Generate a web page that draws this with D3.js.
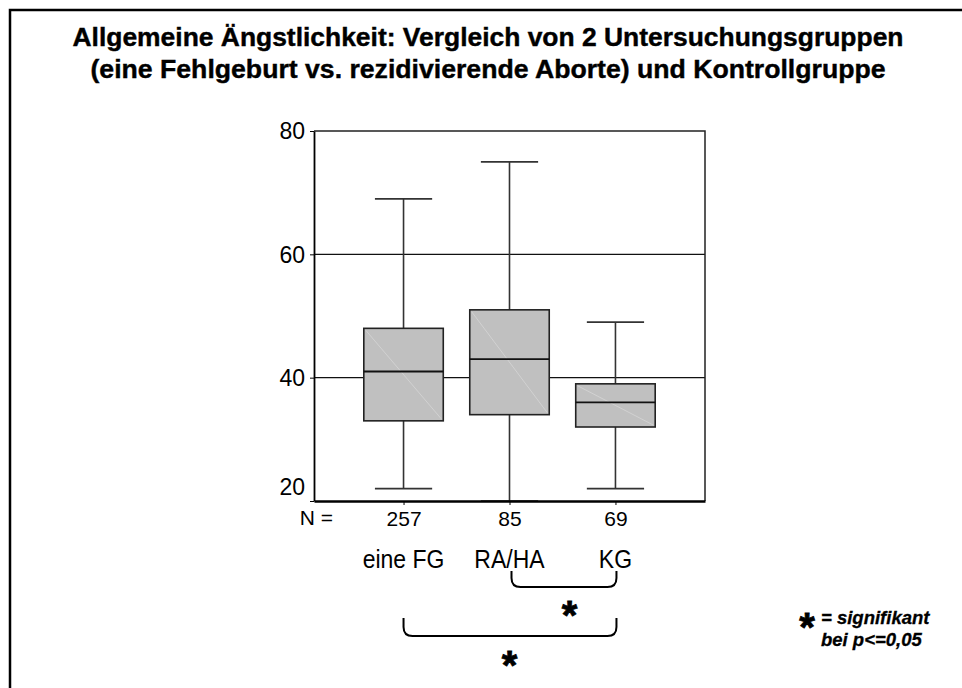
<!DOCTYPE html>
<meta charset="utf-8">
<head>
    <style>
        body { margin: 0; background: #fff; }
        text { font-family: Arial, "Liberation Sans", sans-serif; }
    </style>
</head>
<body>
    <script src="https://d3js.org/d3.v7.js"></script>

    <svg width="962" height="688"></svg>

    <script>
        // Data
        var categories = ["eine FG", "RA/HA", "KG"];
        var nValues = [257, 85, 69];
        var whiskerLow = [22, 20, 22];
        var q1 = [33, 34, 32];
        var median = [41, 43, 36];
        var q3 = [48, 51, 39];
        var whiskerHigh = [69, 75, 49];
        var yTicks = [20, 40, 60, 80];
        var gridValues = [40, 60];
        var comparisons = [["RA/HA", "KG"], ["eine FG", "KG"]];

        var titleLines = [
            "Allgemeine Ängstlichkeit: Vergleich von 2 Untersuchungsgruppen",
            "(eine Fehlgeburt vs. rezidivierende Aborte) und Kontrollgruppe"
        ];

        var svg = d3.select("svg");

        // outer frame (right and bottom edges run off the page)
        svg.append("rect")
            .attr("x", 10).attr("y", 10)
            .attr("width", 980).attr("height", 700)
            .attr("fill", "none")
            .attr("stroke", "#000")
            .attr("stroke-width", 2.5);

        // title
        svg.selectAll(".title")
            .data(titleLines)
            .enter().append("text")
            .attr("class", "title")
            .attr("x", 488)
            .attr("y", function (d, i) { return 46 + i * 31.5; })
            .attr("text-anchor", "middle")
            .attr("font-size", "25px")
            .attr("font-weight", "bold")
            .attr("stroke", "#000")
            .attr("stroke-width", 0.4)
            .attr("textLength", function (d, i) { return i == 0 ? 831 : 795; })
            .attr("lengthAdjust", "spacingAndGlyphs")
            .text(function (d) { return d; });

        var plotLeft = 314, plotRight = 705, plotTop = 131, plotBottom = 501;

        var x = d3.scalePoint().domain(categories).range([plotLeft, plotRight]).padding(0.845);
        var y = d3.scaleLinear().domain([20, 80]).range([plotBottom, plotTop]);

        var step = x.step();
        var boxW = step * 0.75;
        var capW = step * 0.54;

        // grid lines
        svg.selectAll(".grid")
            .data(gridValues)
            .enter().append("line")
            .attr("x1", plotLeft).attr("x2", plotRight)
            .attr("y1", function (d) { return y(d); })
            .attr("y2", function (d) { return y(d); })
            .attr("stroke", "#111")
            .attr("stroke-width", 1.3);

        // top and right frame of the plot
        svg.append("path")
            .attr("d", "M" + plotLeft + "," + plotTop + "H" + plotRight + "V" + plotBottom)
            .attr("fill", "none")
            .attr("stroke", "#222")
            .attr("stroke-width", 1.5);

        var boxes = categories.map(function (c, i) {
            return { cat: c, lo: whiskerLow[i], q1: q1[i], med: median[i], q3: q3[i], hi: whiskerHigh[i] };
        });

        var g = svg.selectAll(".box")
            .data(boxes)
            .enter().append("g")
            .attr("class", "box");

        // whisker line
        g.append("line")
            .attr("x1", function (d) { return x(d.cat); })
            .attr("x2", function (d) { return x(d.cat); })
            .attr("y1", function (d) { return y(d.lo); })
            .attr("y2", function (d) { return y(d.hi); })
            .attr("stroke", "#333")
            .attr("stroke-width", 1.6);

        // whisker caps
        g.selectAll(".cap")
            .data(function (d) { return [{ cat: d.cat, v: d.lo }, { cat: d.cat, v: d.hi }]; })
            .enter().append("line")
            .attr("x1", function (d) { return x(d.cat) - capW / 2; })
            .attr("x2", function (d) { return x(d.cat) + capW / 2; })
            .attr("y1", function (d) { return y(d.v); })
            .attr("y2", function (d) { return y(d.v); })
            .attr("stroke", "#333")
            .attr("stroke-width", 1.6);

        // box
        g.append("rect")
            .attr("x", function (d) { return x(d.cat) - boxW / 2; })
            .attr("y", function (d) { return y(d.q3); })
            .attr("width", boxW)
            .attr("height", function (d) { return y(d.q1) - y(d.q3); })
            .attr("fill", "#c0c0c0")
            .attr("stroke", "#222")
            .attr("stroke-width", 1.6);

        // faint diagonal inside the box
        g.append("line")
            .attr("x1", function (d) { return x(d.cat) - boxW / 2 + 2; })
            .attr("x2", function (d) { return x(d.cat) + boxW / 2 - 2; })
            .attr("y1", function (d) { return y(d.q3) + 2; })
            .attr("y2", function (d) { return y(d.q1) - 2; })
            .attr("stroke", "#d6d6d6")
            .attr("stroke-width", 0.8);

        // median
        g.append("line")
            .attr("x1", function (d) { return x(d.cat) - boxW / 2; })
            .attr("x2", function (d) { return x(d.cat) + boxW / 2; })
            .attr("y1", function (d) { return y(d.med); })
            .attr("y2", function (d) { return y(d.med); })
            .attr("stroke", "#111")
            .attr("stroke-width", 1.8);

        // y axis
        var yAxis = svg.append("g")
            .attr("transform", "translate(" + plotLeft + ",0)")
            .call(d3.axisLeft(y).tickValues(yTicks).tickSize(4).tickSizeOuter(0).tickPadding(5));
        yAxis.select(".domain").attr("stroke", "#000").attr("stroke-width", 1.8);
        yAxis.selectAll(".tick line").attr("stroke", "#000");
        yAxis.selectAll("text")
            .attr("font-size", "23px")
            .attr("fill", "#000")
            .attr("font-family", "Arial, 'Liberation Sans', sans-serif")
            .attr("dy", function (d) { return d == 20 ? "-0.3em" : "0.34em"; });

        // x axis with N labels
        var xAxis = svg.append("g")
            .attr("transform", "translate(0," + plotBottom + ")")
            .call(d3.axisBottom(x).tickSize(4).tickSizeOuter(0).tickPadding(6)
                .tickFormat(function (d, i) { return nValues[i]; }));
        xAxis.select(".domain").attr("stroke", "#000").attr("stroke-width", 2.4);
        xAxis.selectAll(".tick line").attr("stroke", "#000");
        xAxis.selectAll("text")
            .attr("font-size", "21px")
            .attr("fill", "#000")
            .attr("font-family", "Arial, 'Liberation Sans', sans-serif");

        svg.append("text")
            .attr("x", 333)
            .attr("y", 525)
            .attr("text-anchor", "end")
            .attr("font-size", "21px")
            .text("N =");

        // category labels (slightly taller than wide, as in the picture)
        svg.selectAll(".cat")
            .data(categories)
            .enter().append("text")
            .attr("class", "cat")
            .attr("transform", function (d) { return "translate(" + x(d) + ",568) scale(1,1.12)"; })
            .attr("text-anchor", "middle")
            .attr("font-size", "23px")
            .text(function (d) { return d; });

        // significance brackets
        var bracketTop = [571, 618];
        var bracketBottom = [587, 636];
        var starY = [629, 679];
        var r = 9;

        comparisons.forEach(function (pair, i) {
            var x1 = x(pair[0]) + (i == 0 ? 2 : 0), x2 = x(pair[1]) + 1;
            var t = bracketTop[i], b = bracketBottom[i];
            svg.append("path")
                .attr("d", "M" + x1 + "," + t + "L" + x1 + "," + (b - r) +
                    "Q" + x1 + "," + b + " " + (x1 + r) + "," + b +
                    "L" + (x2 - r) + "," + b +
                    "Q" + x2 + "," + b + " " + x2 + "," + (b - r) +
                    "L" + x2 + "," + t)
                .attr("fill", "none")
                .attr("stroke", "#000")
                .attr("stroke-width", 2);
        });

        svg.append("text")
            .attr("x", (x("RA/HA") + x("KG")) / 2 + 7)
            .attr("y", starY[0])
            .attr("text-anchor", "middle")
            .attr("font-size", "40px")
            .attr("font-weight", "bold")
            .attr("stroke", "#000")
            .attr("stroke-width", 0.8)
            .text("*");
        svg.append("text")
            .attr("x", (x("eine FG") + x("KG")) / 2)
            .attr("y", starY[1])
            .attr("text-anchor", "middle")
            .attr("font-size", "40px")
            .attr("font-weight", "bold")
            .attr("stroke", "#000")
            .attr("stroke-width", 0.8)
            .text("*");

        // legend
        svg.append("text")
            .attr("x", 807)
            .attr("y", 641)
            .attr("text-anchor", "middle")
            .attr("font-size", "40px")
            .attr("font-weight", "bold")
            .attr("stroke", "#000")
            .attr("stroke-width", 0.8)
            .text("*");
        svg.selectAll(".leg")
            .data(["= signifikant", "bei p<=0,05"])
            .enter().append("text")
            .attr("class", "leg")
            .attr("x", 821)
            .attr("y", function (d, i) { return 624 + i * 22; })
            .attr("font-size", "18.5px")
            .attr("font-weight", "bold")
            .attr("font-style", "italic")
            .attr("stroke", "#000")
            .attr("stroke-width", 0.3)
            .text(function (d) { return d; });
    </script>
</body>
</html>
